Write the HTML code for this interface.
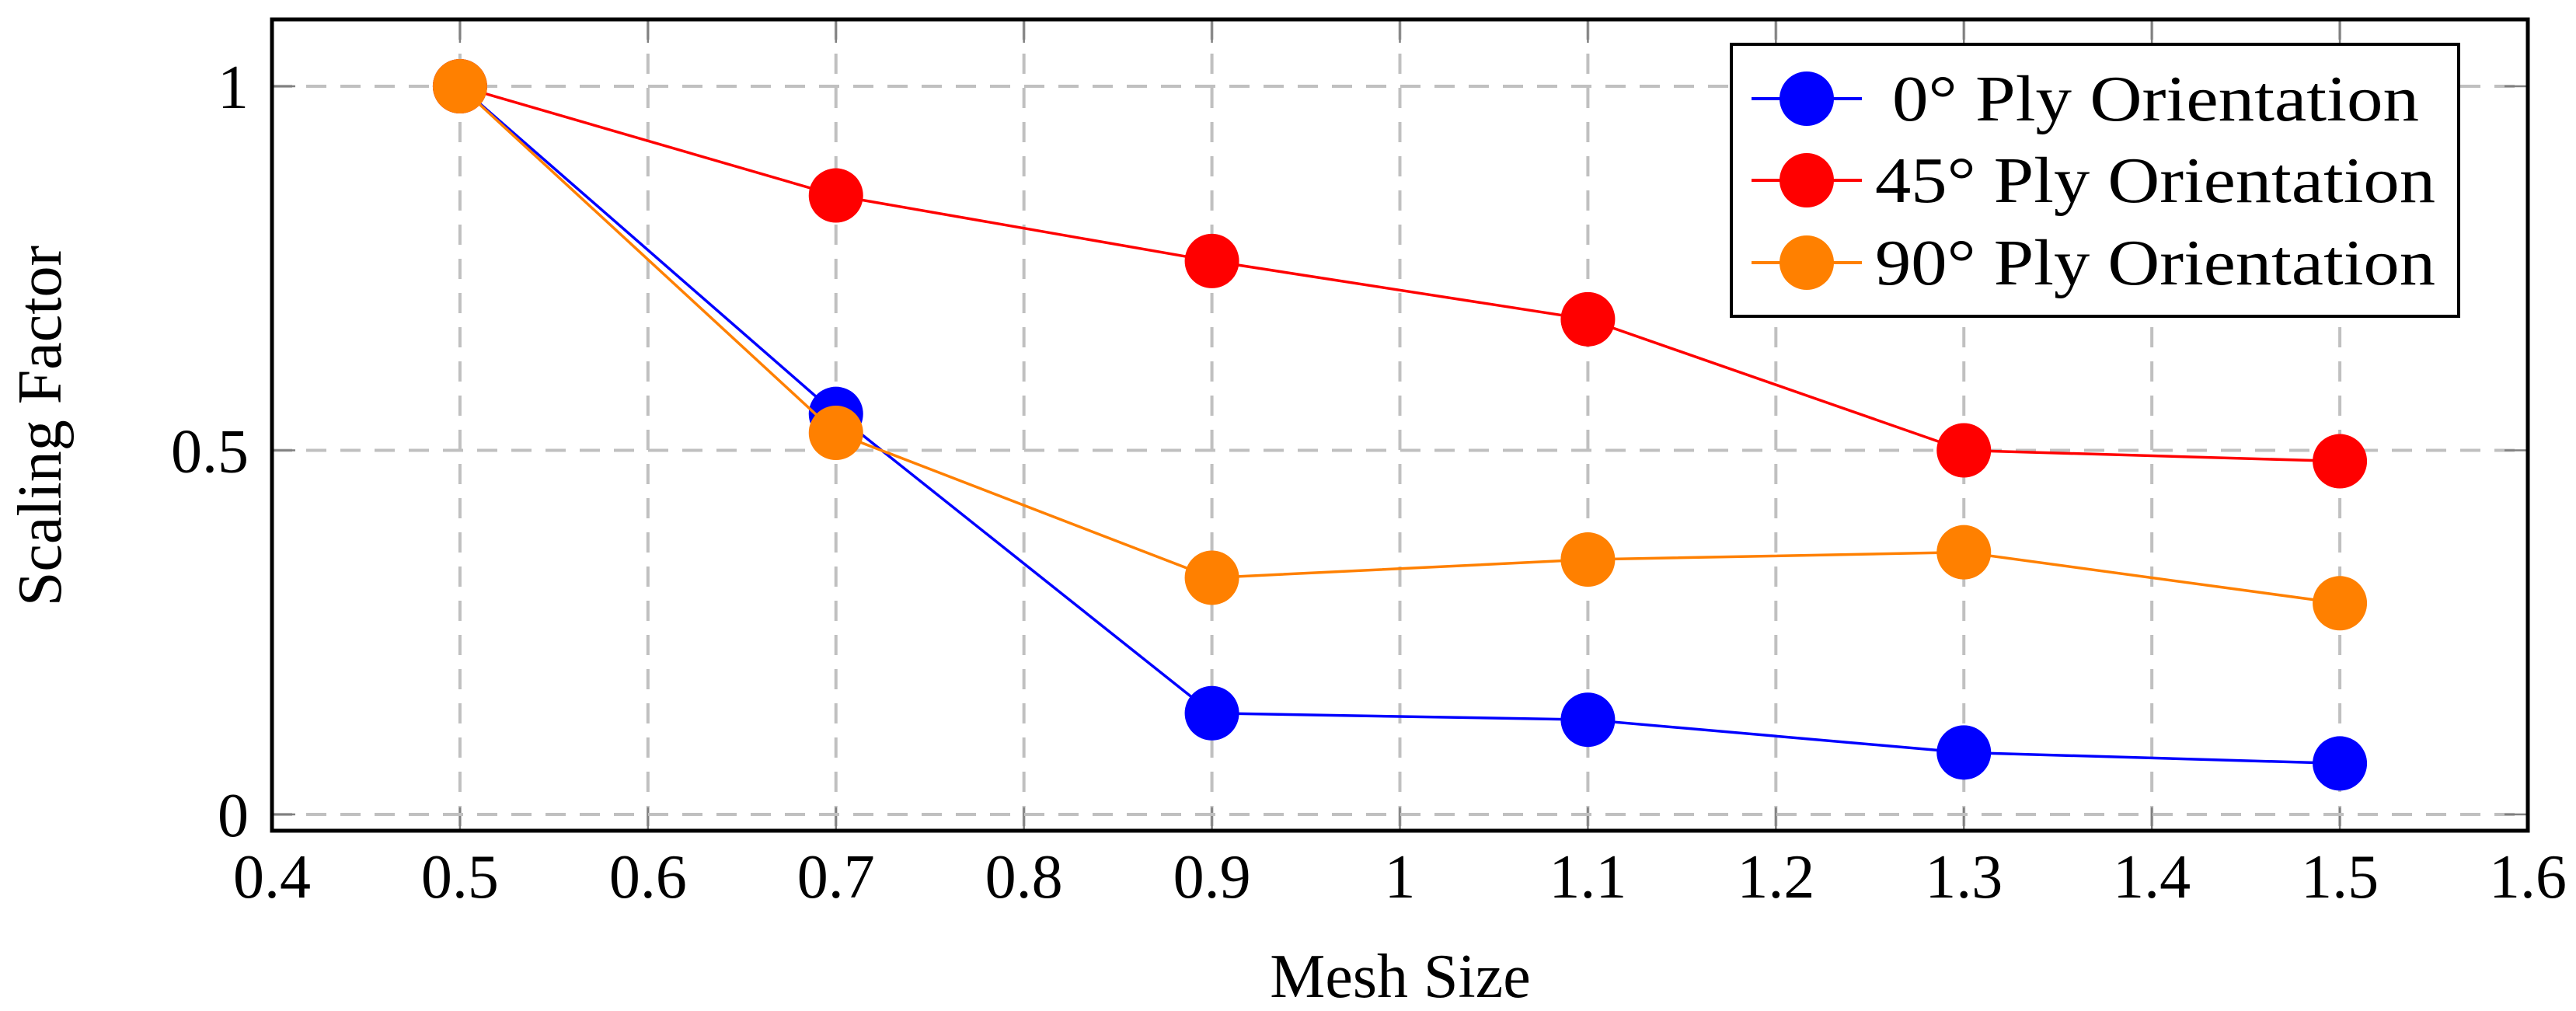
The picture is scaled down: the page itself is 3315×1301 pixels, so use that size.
<!DOCTYPE html>
<html><head><meta charset="utf-8"><style>
html,body{margin:0;padding:0;background:#fff;}
svg{display:block;font-family:"Liberation Serif",serif;}
</style></head><body>
<svg id="chart" width="3315" height="1301" viewBox="0 0 3315 1301" xmlns="http://www.w3.org/2000/svg"></svg>
<script>
const xCategories = [0.5, 0.7, 0.9, 1.1, 1.3, 1.5];
const series0 = [1, 0.55, 0.139, 0.13, 0.085, 0.07];
const series45 = [1, 0.85, 0.76, 0.68, 0.5, 0.485];
const series90 = [1, 0.524, 0.325, 0.35, 0.36, 0.29];
const seriesNames = ["0° Ply Orientation", "45° Ply Orientation", "90° Ply Orientation"];
const xTickLabels = ["0.4","0.5","0.6","0.7","0.8","0.9","1","1.1","1.2","1.3","1.4","1.5","1.6"];
const yTickLabels = ["0","0.5","1"];

const NS = "http://www.w3.org/2000/svg";
const svg = document.getElementById('chart');
const L = 350, R = 3253, T = 25, B = 1069;
const X0 = 0.4, X1 = 1.6;
function xs(v){ return L + (v - X0) / (X1 - X0) * (R - L); }
function ys(v){ return 1048 - v * 937; }
function mk(tag, attrs, parent){
  const e = document.createElementNS(NS, tag);
  for (const k in attrs) e.setAttribute(k, attrs[k]);
  (parent || svg).appendChild(e);
  return e;
}
const grid = mk('g', {});


xTickLabels.forEach(t => {
  const v = parseFloat(t), x = xs(v);
  if (v > X0 && v < X1) {
    mk('line', {x1:x, x2:x, y1:T, y2:B, stroke:'#c0c0c0', 'stroke-width':4, 'stroke-dasharray':'26 18'}, grid);
    mk('line', {x1:x, x2:x, y1:T, y2:T+30, stroke:'#808080', 'stroke-width':2.5}, grid);
    mk('line', {x1:x, x2:x, y1:B-30, y2:B, stroke:'#808080', 'stroke-width':2.5}, grid);
  }
  const lbl = mk('text', {x:x, y:1155, 'font-size':80, 'text-anchor':'middle', fill:'#000'});
  lbl.textContent = t;
  
  
});
yTickLabels.forEach(t => {
  const v = parseFloat(t), y = ys(v);
  mk('line', {x1:L, x2:R, y1:y, y2:y, stroke:'#c0c0c0', 'stroke-width':4, 'stroke-dasharray':'26 18'}, grid);
  mk('line', {x1:L, x2:L+30, y1:y, y2:y, stroke:'#808080', 'stroke-width':2.5}, grid);
  mk('line', {x1:R-30, x2:R, y1:y, y2:y, stroke:'#808080', 'stroke-width':2.5}, grid);
  const lbl = mk('text', {x:320, y:y+28, 'font-size':80, 'text-anchor':'end', fill:'#000'});
  lbl.textContent = t;
  
  
});
const allSeries = [series0, series45, series90];
const colors = ['#0000ff', '#ff0000', '#ff8000'];
const names = ['series-0-deg', 'series-45-deg', 'series-90-deg'];
allSeries.forEach((s, i) => {
  const g = mk('g', {});
  
  
  const pts = s.map((v, j) => xs(xCategories[j]) + ',' + ys(v)).join(' ');
  mk('polyline', {points:pts, fill:'none', stroke:colors[i], 'stroke-width':3.5}, g);
  s.forEach((v, j) => {
    const c = mk('circle', {cx:xs(xCategories[j]), cy:ys(v), r:35, fill:colors[i]}, g);
    
    
  });
});
const frame = mk('rect', {x:L, y:T, width:R-L, height:B-T, fill:'none', stroke:'#000', 'stroke-width':5});


const leg = mk('g', {});


mk('rect', {x:2228, y:57, width:936, height:350, fill:'#fff', stroke:'#000', 'stroke-width':4}, leg);
const rowY = [127, 232, 338];
const textX = [2435, 2413, 2413];
const textW = [678, 721, 721];
seriesNames.forEach((n, i) => {
  const e = mk('g', {}, leg);
  
  
  mk('line', {x1:2254, x2:2396, y1:rowY[i], y2:rowY[i], stroke:colors[i], 'stroke-width':4}, e);
  mk('circle', {cx:2325, cy:rowY[i], r:35, fill:colors[i]}, e);
  const t = mk('text', {x:textX[i], y:rowY[i]+28, 'font-size':84, fill:'#000', textLength:textW[i], lengthAdjust:'spacingAndGlyphs'}, e);
  t.textContent = n;
});
const xt = mk('text', {x:1802, y:1283, 'font-size':80, 'text-anchor':'middle', fill:'#000'});
xt.textContent = 'Mesh Size';


const yt = mk('text', {x:0, y:0, 'font-size':80, 'text-anchor':'middle', fill:'#000', transform:'translate(78,548) rotate(-90)'});
yt.textContent = 'Scaling Factor';


</script>
</body></html>
